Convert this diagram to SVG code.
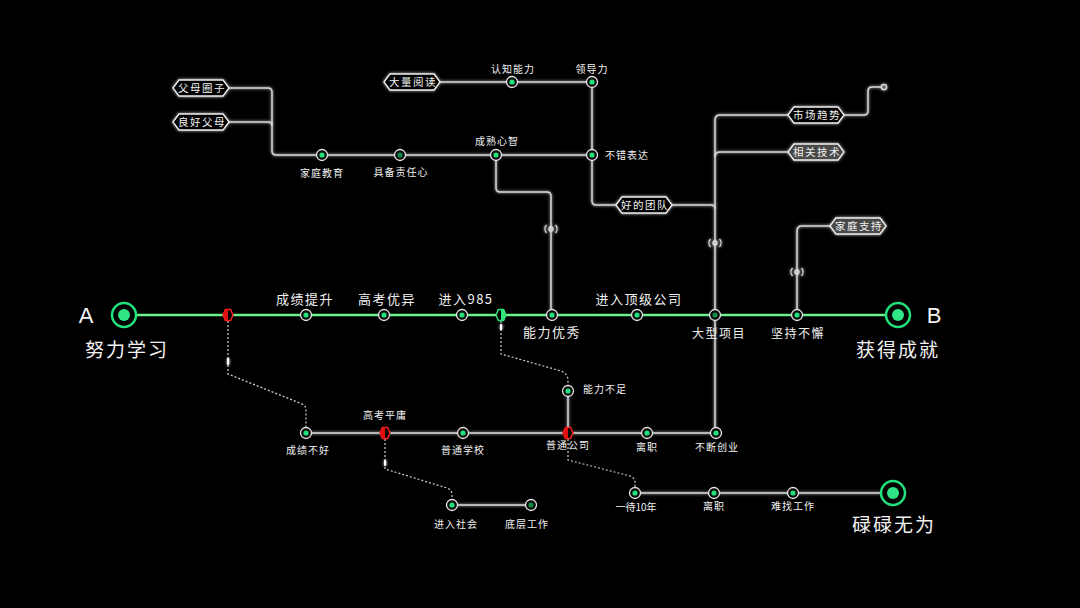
<svg xmlns="http://www.w3.org/2000/svg" xmlns:xlink="http://www.w3.org/1999/xlink" width="1080" height="608" viewBox="0 0 1080 608">
<defs>
<style>
text{font-family:"Noto Sans CJK SC","Liberation Sans",sans-serif;fill:#f2f2f2;text-anchor:middle}
.big{font-size:19px;letter-spacing:2px}
.mid{font-size:13px;letter-spacing:1.5px}
.sm{font-size:10px;letter-spacing:1px}
.tagt{font-size:10.5px;letter-spacing:1.5px}
.ln{fill:none;stroke:#d8d8d8;stroke-width:1.5}
.dot{fill:none;stroke:#cfcfcf;stroke-width:1.2;stroke-dasharray:2 2}
.ring{fill:#0a0a0a;stroke:#e6e6e6;stroke-width:1.3}
.core{fill:#22e07a}
.dim{fill:#0e8a45}
.tag{fill:#000;stroke:#eee;stroke-width:1.3}
.tagg{fill:#4a4a4a;stroke:#eee;stroke-width:1.3}
.sig{fill:none;stroke:#ddd;stroke-width:1.3}
</style>
<filter id="glow" x="-50%" y="-50%" width="200%" height="200%">
<feGaussianBlur stdDeviation="1.4" result="b"/>
<feMerge><feMergeNode in="b"/><feMergeNode in="SourceGraphic"/></feMerge>
</filter>
<filter id="bigglow" x="-10%" y="-500%" width="120%" height="1100%">
<feGaussianBlur stdDeviation="6"/>
</filter>
<path id="tagshape" d="M-28,0 L-22,-8 L22,-8 L28,0 L22,8 L-22,8 Z"/>
<path id="hex" d="M-5,0 L-2.6,-5.5 L2.6,-5.5 L5,0 L2.6,5.5 L-2.6,5.5 Z"/>
<g id="node"><circle r="5.5" class="ring"/><circle r="2.6" class="core"/></g>
<g id="nodedim"><circle r="5.5" class="ring"/><circle r="2.6" class="dim"/></g>
<g id="signal" class="sig"><circle r="2"/><path d="M-4.5,-4 A6,6 0 0 0 -4.5,4 M4.5,-4 A6,6 0 0 1 4.5,4"/></g>
</defs>
<rect width="1080" height="608" fill="#000"/>

<g id="connectors">
<g filter="url(#glow)">
<path class="ln" d="M229,88 H268 Q272,88 272,92 V151 Q272,155 276,155 H592"/>
<path class="ln" d="M229,122 H268 Q272,122 272,126"/>
<path class="ln" d="M440,82 H592 V201 Q592,205 596,205 H616"/>
<path class="ln" d="M672,205 H711 Q715,205 715,209"/>
<path class="ln" d="M788,115 H720 Q715,115 715,120 V433"/>
<path class="ln" d="M788,152 H720 Q715,152 715,157"/>
<path class="ln" d="M844,115 H864 Q868,115 868,111 V91 Q868,87 872,87 H881"/>
<circle cx="884" cy="87" r="2.6" class="ln"/>
<path class="ln" d="M831,226 H802 Q797,226 797,231 V315"/>
<path class="ln" d="M496,155 V188 Q496,192 500,192 H547 Q551,192 551,196 V315"/>
<path class="ln" d="M306,433 H716"/>
<path class="ln" d="M568,391 V433"/>
<path class="ln" d="M452,505 H531"/>
<path class="ln" d="M635,493 H881"/>
</g>
<path class="dot" d="M228,321 V374 L302,404 Q306,406 306,410 V427"/>
<path class="dot" d="M501,321 V354 L561,371 Q568,374 568,380 V385"/>
<path class="dot" d="M385,439 V469 L447,488 Q452,490 452,494 V499"/>
<path class="dot" d="M568,439 V460 L630,476 Q635,478 635,482 V487"/>
<g fill="#fff" filter="url(#glow)">
<rect x="227" y="358" width="2.2" height="7" rx="1"/>
<rect x="500" y="324" width="2.2" height="6" rx="1"/>
<rect x="384" y="460" width="2.2" height="6" rx="1"/>
</g>
<line x1="136" y1="315" x2="886" y2="315" stroke="#2fe070" stroke-width="14" opacity="0.35" filter="url(#bigglow)"/>
<line x1="136" y1="315" x2="886" y2="315" stroke="#3ee070" stroke-width="5" opacity="0.5" filter="url(#glow)"/>
<line x1="136" y1="315" x2="886" y2="315" stroke="#6cf08e" stroke-width="2.6"/>
<use xlink:href="#signal" x="551" y="229" filter="url(#glow)"/>
<use xlink:href="#signal" x="715" y="243" filter="url(#glow)"/>
<use xlink:href="#signal" x="797" y="272" filter="url(#glow)"/>
</g>

<g id="start"><circle cx="124" cy="315" r="12" fill="#000" stroke="#22e07a" stroke-width="2.5"/><circle cx="124" cy="315" r="6" fill="#2fe585"/>
<text x="86" y="323" style="font-family:'Liberation Sans',sans-serif;font-size:22px">A</text>
<text x="127" y="357" class="big">努力学习</text></g>
<g id="end"><circle cx="898" cy="315" r="12" fill="#000" stroke="#22e07a" stroke-width="2.5"/><circle cx="898" cy="315" r="6" fill="#2fe585"/>
<text x="934" y="323" style="font-family:'Liberation Sans',sans-serif;font-size:22px">B</text>
<text x="898" y="357" class="big">获得成就</text></g>
<g id="fail"><circle cx="893" cy="493" r="12" fill="#000" stroke="#22e07a" stroke-width="2.5"/><circle cx="893" cy="493" r="6" fill="#2fe585"/>
<text x="894" y="532" class="big">碌碌无为</text></g>

<g id="hex-red1"><use xlink:href="#hex" x="228" y="315" fill="#000" stroke="#ff2020" stroke-width="1.4"/><path d="M228,309.5 H225.4 L223,315 L225.4,320.5 H228 Z" fill="#e01010"/></g>
<g id="hex-green"><use xlink:href="#hex" x="501" y="315" fill="#000" stroke="#2fe57a" stroke-width="1.4"/><path d="M501,309.5 H503.6 L506,315 L503.6,320.5 H501 Z" fill="#2fe57a"/></g>
<g id="gaokao-pingyong"><use xlink:href="#hex" x="385" y="433" fill="#000" stroke="#ff2020" stroke-width="1.4"/><path d="M385,427.5 H382.4 L380,433 L382.4,438.5 H385 Z" fill="#e01010"/><text x="385" y="419" class="sm">高考平庸</text></g>
<g id="putong-gongsi"><use xlink:href="#hex" x="568" y="433" fill="#000" stroke="#ff2020" stroke-width="1.4"/><path d="M568,427.5 H565.4 L563,433 L565.4,438.5 H568 Z" fill="#e01010"/><text x="568" y="449" class="sm">普通公司</text></g>

<g id="chengji-tisheng"><use xlink:href="#node" x="306" y="315"/><text x="305" y="304" class="mid">成绩提升</text></g>
<g id="gaokao-youyi"><use xlink:href="#node" x="384" y="315"/><text x="387" y="304" class="mid">高考优异</text></g>
<g id="jinru985"><use xlink:href="#node" x="462" y="315"/><text x="466" y="304" class="mid">进入985</text></g>
<g id="nengli-youxiu"><use xlink:href="#node" x="552" y="315"/><text x="552" y="337" class="mid">能力优秀</text></g>
<g id="dingji-gongsi"><use xlink:href="#node" x="637" y="315"/><text x="639" y="304" class="mid">进入顶级公司</text></g>
<g id="daxing-xiangmu"><use xlink:href="#nodedim" x="715" y="315"/><text x="719" y="338" style="font-size:12px;letter-spacing:1.5px">大型项目</text></g>
<g id="jianchi"><use xlink:href="#node" x="797" y="315"/><text x="798" y="338" style="font-size:12px;letter-spacing:1.5px">坚持不懈</text></g>

<g id="fumu-quanzi"><use xlink:href="#tagshape" x="201" y="88" class="tag" filter="url(#glow)"/><text x="202" y="92" class="tagt">父母圈子</text></g>
<g id="lianghao-fumu"><use xlink:href="#tagshape" x="201" y="122" class="tag" filter="url(#glow)"/><text x="202" y="126" class="tagt">良好父母</text></g>
<g id="daliang-yuedu"><use xlink:href="#tagshape" x="412" y="82" class="tag" filter="url(#glow)"/><text x="413" y="86" class="tagt">大量阅读</text></g>
<g id="haode-tuandui"><use xlink:href="#tagshape" x="644" y="205" class="tag" filter="url(#glow)"/><text x="645" y="209" class="tagt">好的团队</text></g>
<g id="shichang-qushi"><use xlink:href="#tagshape" x="816" y="115" class="tag" filter="url(#glow)"/><text x="817" y="119" class="tagt">市场趋势</text></g>
<g id="xiangguan-jishu"><use xlink:href="#tagshape" x="816" y="152" class="tagg" filter="url(#glow)"/><text x="817" y="156" class="tagt">相关技术</text></g>
<g id="jiating-zhichi"><use xlink:href="#tagshape" x="858" y="226" class="tagg" filter="url(#glow)"/><text x="859" y="230" class="tagt">家庭支持</text></g>

<g id="jiating-jiaoyu"><use xlink:href="#node" x="322" y="155"/><text x="322" y="177" class="sm">家庭教育</text></g>
<g id="zerenxin"><use xlink:href="#nodedim" x="400" y="155"/><text x="401" y="176" class="sm">具备责任心</text></g>
<g id="chengshu-xinzhi"><use xlink:href="#node" x="496" y="155"/><text x="497" y="145" class="sm">成熟心智</text></g>
<g id="bucuo-biaoda"><use xlink:href="#node" x="592" y="155"/><text x="605" y="159" class="sm" style="text-anchor:start">不错表达</text></g>
<g id="renzhi-nengli"><use xlink:href="#node" x="512" y="82"/><text x="513" y="73" class="sm">认知能力</text></g>
<g id="lingdaoli"><use xlink:href="#node" x="592" y="82"/><text x="592" y="73" class="sm">领导力</text></g>

<g id="chengji-buhao"><use xlink:href="#node" x="306" y="433"/><text x="308" y="454" class="sm">成绩不好</text></g>
<g id="putong-xuexiao"><use xlink:href="#node" x="463" y="433"/><text x="463" y="454" class="sm">普通学校</text></g>
<g id="nengli-buzu"><use xlink:href="#node" x="568" y="391"/><text x="583" y="393" class="sm" style="text-anchor:start">能力不足</text></g>
<g id="lizhi1"><use xlink:href="#node" x="647" y="433"/><text x="647" y="451" class="sm">离职</text></g>
<g id="buduan-chuangye"><use xlink:href="#node" x="716" y="433"/><text x="717" y="451" class="sm">不断创业</text></g>
<g id="jinru-shehui"><use xlink:href="#node" x="452" y="505"/><text x="456" y="528" class="sm">进入社会</text></g>
<g id="diceng-gongzuo"><use xlink:href="#nodedim" x="531" y="505"/><text x="527" y="528" class="sm">底层工作</text></g>
<g id="yidai10nian"><use xlink:href="#node" x="635" y="493"/><text x="636" y="511" class="sm" style="letter-spacing:0">一待10年</text></g>
<g id="lizhi2"><use xlink:href="#node" x="714" y="493"/><text x="714" y="510" class="sm">离职</text></g>
<g id="nanzhao-gongzuo"><use xlink:href="#node" x="793" y="493"/><text x="793" y="510" class="sm">难找工作</text></g>
</svg>
